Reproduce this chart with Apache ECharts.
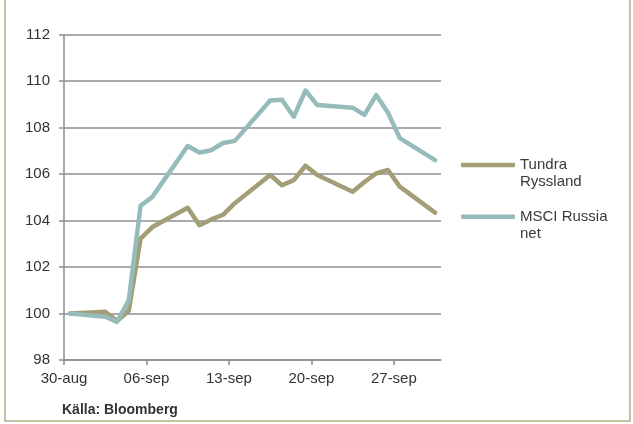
<!DOCTYPE html>
<html>
<head>
<meta charset="utf-8">
<style>
  html, body { margin: 0; padding: 0; background: #ffffff; }
  #chart { width: 633px; height: 424px; }
</style>
<script src="https://cdn.jsdelivr.net/npm/echarts@6/dist/echarts.min.js"></script>
</head>
<body>
<div id="chart"></div>
<script>
// Trading days (weekends are skipped)
const dates = [
  '2013-08-30',
  '2013-09-02', '2013-09-03', '2013-09-04', '2013-09-05', '2013-09-06',
  '2013-09-09', '2013-09-10', '2013-09-11', '2013-09-12', '2013-09-13',
  '2013-09-16', '2013-09-17', '2013-09-18', '2013-09-19', '2013-09-20',
  '2013-09-23', '2013-09-24', '2013-09-25', '2013-09-26', '2013-09-27',
  '2013-09-30'
];

// Indexed to 100 on 30 Aug
const tundraRyssland = [
  100.0,
  100.08, 99.68, 100.12, 103.22, 103.72,
  104.55, 103.8, 104.05, 104.25, 104.75,
  105.96, 105.52, 105.74, 106.36, 105.96,
  105.24, 105.66, 106.03, 106.18, 105.46,
  104.34
];

const msciRussiaNet = [
  100.0,
  99.86, 99.64, 100.58, 104.64, 105.02,
  107.21, 106.93, 107.03, 107.34, 107.43,
  109.17, 109.2, 108.47, 109.6, 108.97,
  108.86, 108.55, 109.4, 108.64, 107.55,
  106.6
];

const seriesNames = ['Tundra Ryssland', 'MSCI Russia net'];
const legendLines = { 'Tundra Ryssland': ['Tundra', 'Ryssland'], 'MSCI Russia net': ['MSCI Russia', 'net'] };

// Weekly axis labels starting 30 Aug
const tickLabels = ['30-aug', '06-sep', '13-sep', '20-sep', '27-sep'];
const yTicks = { min: 98, max: 112, step: 2 };

const DAY = 86400000;
const start = Date.parse(dates[0] + 'T00:00:00Z');
// Each day occupies one slot; points sit in the middle of their day
const dayPos = d => (Date.parse(d + 'T00:00:00Z') - start) / DAY + 0.5;
const pairs = vals => vals.map((v, i) => [dayPos(dates[i]), v]);
const tickPos = tickLabels.map((_, i) => i * 7);

const colTundra = '#a39e76';
const colMsci = '#95bcba';
const gridCol = '#8e8e8e';
const font = '"Liberation Sans", Arial, sans-serif';

const chart = echarts.init(document.getElementById('chart'), null, { renderer: 'canvas' });

// A blank line above keeps the first text line level with the legend stroke
const legendBase = {
  orient: 'vertical',
  left: 461,
  padding: 0,
  itemWidth: 54,
  itemHeight: 4.5,
  itemGap: 0,
  icon: 'roundRect',
  formatter: n => ' \n' + legendLines[n].join('\n'),
  textStyle: { fontFamily: font, fontSize: 15, color: '#3a3a3a', lineHeight: 17 }
};

chart.setOption({
  animation: false,
  backgroundColor: '#ffffff',
  color: [colTundra, colMsci],
  grid: { left: 64, right: 192, top: 34.7, bottom: 64, containLabel: false },
  legend: [
    Object.assign({}, legendBase, { top: 165 - 25.5, data: [seriesNames[0]] }),
    Object.assign({}, legendBase, { top: 216.7 - 25.5, data: [seriesNames[1]] })
  ],
  xAxis: {
    type: 'value',
    min: 0,
    max: 32,
    splitLine: { show: false },
    axisLine: { show: true, lineStyle: { color: gridCol, width: 1.5 } },
    axisTick: { show: true, length: 5, customValues: tickPos, lineStyle: { color: gridCol, width: 1.5 } },
    axisLabel: {
      customValues: tickPos,
      formatter: v => tickLabels[Math.round(v / 7)] || '',
      fontFamily: font, fontSize: 15, color: '#333333', margin: 11
    }
  },
  yAxis: {
    type: 'value',
    min: yTicks.min,
    max: yTicks.max,
    interval: yTicks.step,
    axisLine: { show: true, lineStyle: { color: gridCol, width: 1.5 } },
    axisTick: { show: true, length: 5, lineStyle: { color: gridCol, width: 1.5 } },
    splitLine: { show: true, lineStyle: { color: gridCol, width: 1.5 } },
    axisLabel: { fontFamily: font, fontSize: 15, color: '#333333', margin: 14 }
  },
  series: [
    {
      name: seriesNames[0], type: 'line', data: pairs(tundraRyssland),
      showSymbol: false, symbol: 'none',
      lineStyle: { width: 4.5, color: colTundra, cap: 'round', join: 'round' }
    },
    {
      name: seriesNames[1], type: 'line', data: pairs(msciRussiaNet),
      showSymbol: false, symbol: 'none',
      lineStyle: { width: 4.5, color: colMsci, cap: 'round', join: 'round' }
    }
  ],
  graphic: [
    {
      type: 'rect', silent: true, z: -1,
      shape: { x: 5, y: -3, width: 625, height: 424 },
      style: { fill: 'none', stroke: '#b3ae88', lineWidth: 1.5 }
    },
    {
      type: 'text', left: 62, top: 403,
      style: { text: 'Källa: Bloomberg', font: 'bold 14px ' + font, fill: '#333333' }
    }
  ]
});
</script>
</body>
</html>
